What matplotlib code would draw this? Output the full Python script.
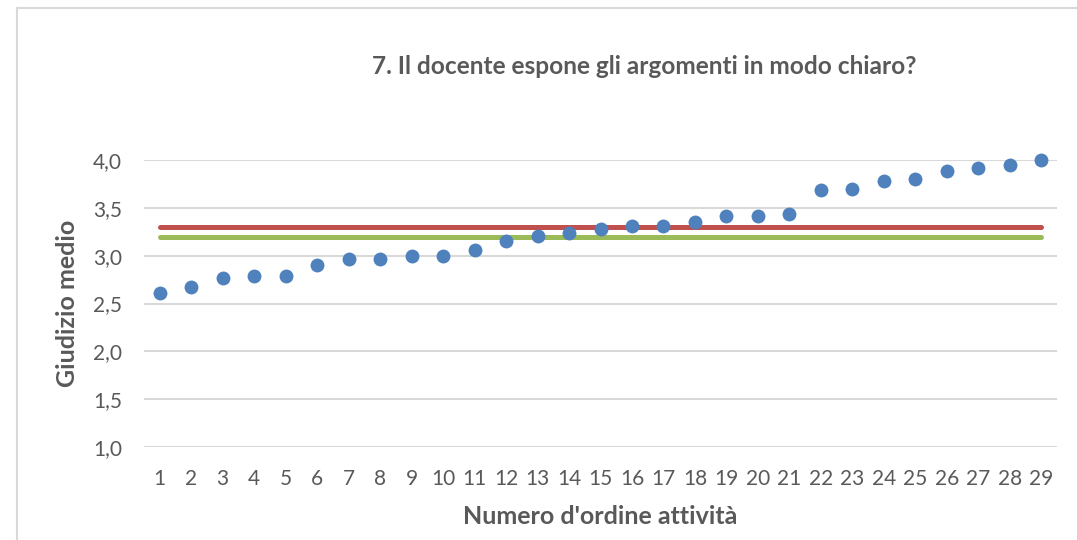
import matplotlib
matplotlib.use("Agg")
import matplotlib.pyplot as plt
from matplotlib.lines import Line2D

# --- dati ---
attivita = list(range(1, 30))
giudizio = [2.61, 2.67, 2.77, 2.79, 2.79, 2.90, 2.96, 2.97, 3.00, 3.00,
            3.06, 3.15, 3.21, 3.24, 3.28, 3.31, 3.31, 3.35, 3.41, 3.41,
            3.44, 3.69, 3.70, 3.78, 3.80, 3.88, 3.92, 3.95, 4.00]
media_rossa = 3.30
media_verde = 3.20

titolo = "7. Il docente espone gli argomenti in modo chiaro?"
y_ticks = [1.0, 1.5, 2.0, 2.5, 3.0, 3.5, 4.0]

BLU = "#4f81bd"
ROSSO = "#c0504d"
VERDE = "#9bbb59"
GRIGIO_TXT = "#595959"
GRIGIO_GRID = "#d9d9d9"

plt.rcParams['font.family'] = ['Lato', 'DejaVu Sans']

fig = plt.figure(figsize=(10.77, 5.4), dpi=100)
ax = fig.add_axes([144 / 1077, 1 - 447 / 540, (1057 - 144) / 1077, (447 - 160) / 540])

# cornice esterna del grafico
fig.add_artist(Line2D([16.5 / 1077, 16.5 / 1077], [0, 1 - 7.5 / 540],
                      transform=fig.transFigure, color=GRIGIO_GRID, lw=1.5))
fig.add_artist(Line2D([16.5 / 1077, 1], [1 - 7.5 / 540, 1 - 7.5 / 540],
                      transform=fig.transFigure, color=GRIGIO_GRID, lw=1.5))

x_first, x_last = attivita[0], attivita[-1]
ax.plot([x_first, x_last], [media_rossa, media_rossa], color=ROSSO, lw=3.6,
        solid_capstyle='round', zorder=2)
ax.plot([x_first, x_last], [media_verde, media_verde], color=VERDE, lw=3.6,
        solid_capstyle='round', zorder=2)
ax.plot(attivita, giudizio, 'o', color=BLU, markersize=10, markeredgewidth=0,
        zorder=3, clip_on=False)

ax.set_xlim(0.5, 29.5)
ax.set_ylim(1.0, 4.0)
ax.set_xticks(attivita)
ax.set_xticklabels([str(a) for a in attivita])
ax.set_yticks(y_ticks)
ax.set_yticklabels([f"{v:.1f}".replace(".", ",") for v in y_ticks])
ax.yaxis.grid(True, color=GRIGIO_GRID, lw=1.5)
ax.set_axisbelow(True)
for s in ax.spines.values():
    s.set_visible(False)
ax.tick_params(axis='both', length=0, labelsize=15, colors=GRIGIO_TXT, pad=16)
ax.tick_params(axis='x', pad=15.5)

ax.set_ylabel("Giudizio medio", fontsize=18, fontweight='bold', color=GRIGIO_TXT, labelpad=10)
ax.set_xlabel("Numero d'ordine attività", fontsize=18, fontweight='bold', color=GRIGIO_TXT, labelpad=12)

fig.text(644 / 1077, 1 - 67 / 540, titolo, ha='center', va='center',
         fontsize=17.6, fontweight='bold', color=GRIGIO_TXT)

fig.savefig("out.png", dpi=100, facecolor="white")
